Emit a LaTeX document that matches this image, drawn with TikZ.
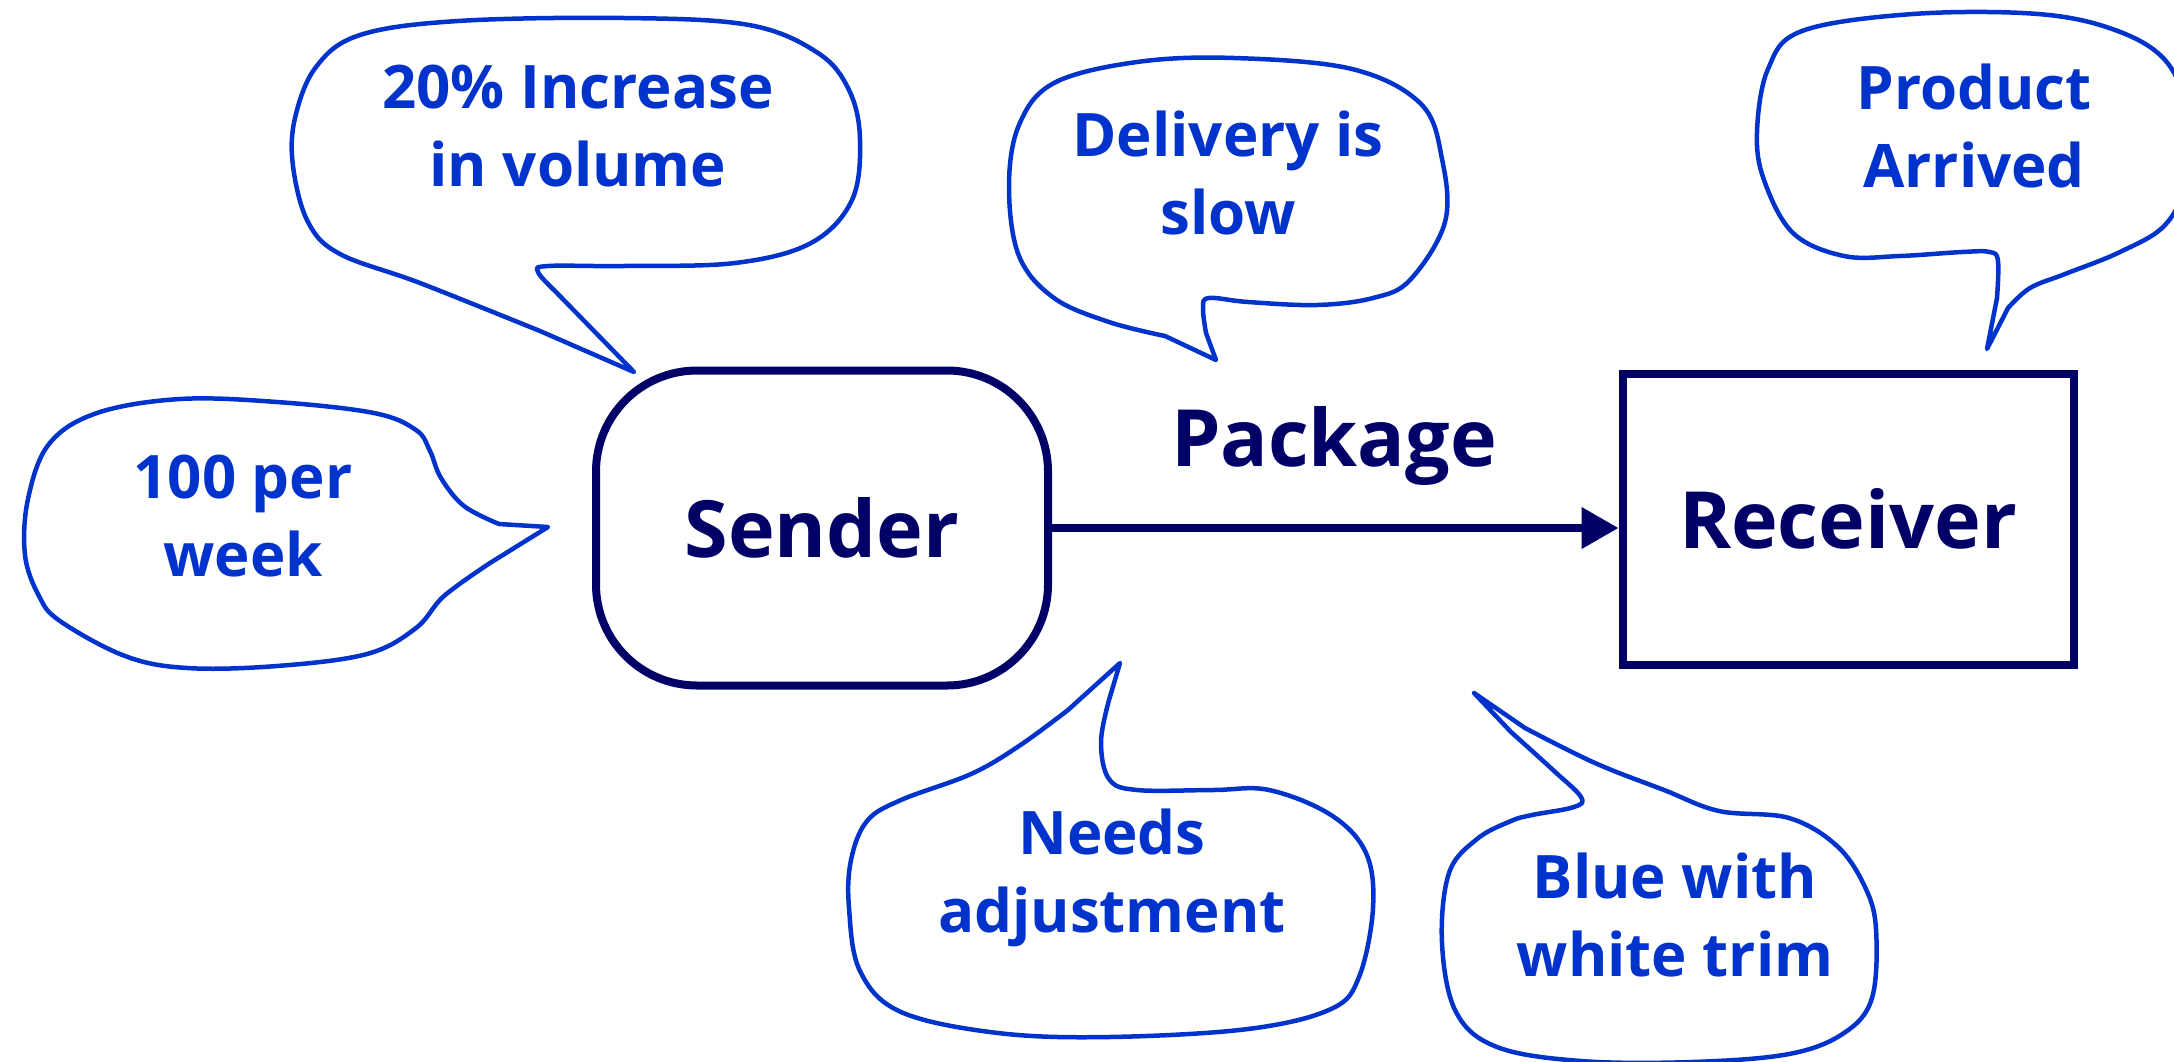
\documentclass[tikz,border=0pt]{standalone}
\usepackage{fontspec}
\setmainfont{Open Sans}
\usepackage{xcolor}
\usetikzlibrary{arrows.meta}

\definecolor{notecolor}{RGB}{0,51,204}
\definecolor{boxcolor}{RGB}{0,0,102}

\tikzset{
  box/.style={draw=boxcolor, line width=8pt, text=boxcolor, inner sep=0pt,
    font=\bfseries\fontsize{79}{90}\selectfont},
  bubble/.style={draw=notecolor, line width=4.5pt, line join=round},
  note/.style={text=notecolor, align=center,
    font=\bfseries\fontsize{60}{78}\selectfont},
}

\begin{document}
\begin{tikzpicture}[x=1pt, y=-1pt]
        \useasboundingbox (0,0) rectangle (2174,1061);

        % The two parties
        \node[box, rounded corners=101pt, minimum width=452pt, minimum height=315pt] (sender) at (822,528) {Sender};
        \node[box, minimum width=451pt, minimum height=291pt] (receiver) at (1848,519) {Receiver};

        % The package travelling between them
        \draw[boxcolor, line width=7.5pt, -{Triangle[length=37pt,width=40pt]}] (sender.east) -- (sender.east -| receiver.west);
        \node[text=boxcolor, font=\bfseries\fontsize{79}{90}\selectfont] (package) at (1334,446) {Package};

        % Speech bubbles
        \draw[bubble] (634,372) -- plot[smooth, tension=0.6] coordinates {
            (540,331) (420,283) (340,254) (308,222) (293,166) (295,118) (316,67)
            (360,35) (458,21) (624,18) (749,25) (818,53) (849,90) (860,139)
            (852,200) (811,243)
            (735,263) (624,266) (548,266) (538,272) (555,291)} -- cycle;
        \node[note] (volume) at (578,126) {20\% Increase\\in volume};

        \draw[bubble] (1216,360) -- plot[smooth, tension=0.6] coordinates {
            (1165,336) (1109,322) (1054,298) (1019,256) (1009,187) (1019,125)
            (1054,83) (1137,62) (1234,58) (1352,69) (1421,104) (1442,159)
            (1445,222) (1410,280) (1373,298) (1317,305) (1248,302) (1209,298)
            (1203,308) (1206,333)} -- cycle;
        \node[note] (speed) at (1228,173) {Delivery is\\slow};

        \draw[bubble] (1987,349) -- plot[smooth, tension=0.6] coordinates {
            (1997,298) (1998,261) (1990,252) (1962,252) (1900,256) (1844,256)
            (1793,233) (1764,180) (1757,132) (1768,69) (1802,31) (1913,14)
            (2038,14) (2115,30) (2165,60) (2186,110) (2186,180) (2165,225)
            (2120,252) (2065,274) (2030,288) (2008,308)} -- cycle;
        \node[note] (arrival) at (1974,126) {Product\\Arrived};

        \draw[bubble] (548,527) -- plot[smooth, tension=0.6] coordinates {
            (499,524) (464,506) (441,478) (430,451) (416,430) (374,413)
            (277,402) (180,399) (97,413) (49,444) (28,499) (25,555) (39,596)
            (60,621) (125,656) (187,668) (277,666) (367,654) (416,628)
            (444,596) (490,563)} -- cycle;
        \node[note] (rate) at (243,516) {100 per\\week};

        \draw[bubble] (1120,663) -- plot[smooth, tension=0.6] coordinates {
            (1068,710) (1019,746) (971,774) (901,800) (867,821) (851,860)
            (849,908) (860,971) (901,1012) (998,1033) (1109,1037) (1248,1029)
            (1331,1009) (1359,977) (1373,908) (1366,853) (1331,815) (1269,790)
            (1213,790) (1137,790) (1109,779) (1101,742) (1109,700)} -- cycle;
        \node[note] (adjust) at (1112,878) {Needs\\adjustment};

        \draw[bubble] (1474,693) -- plot[smooth, tension=0.6] coordinates {
            (1525,728) (1595,763) (1664,790) (1719,811) (1789,818) (1837,846)
            (1865,887) (1876,929) (1872,998) (1844,1033) (1789,1054) (1692,1062)
            (1581,1061) (1497,1047) (1456,1012) (1442,943) (1449,873) (1477,839)
            (1511,821) (1532,815) (1574,807) (1581,797) (1553,770) (1511,732)} -- cycle;
        \node[note] (colour) at (1675,915) {Blue with\\white trim};
\end{tikzpicture}
\end{document}
